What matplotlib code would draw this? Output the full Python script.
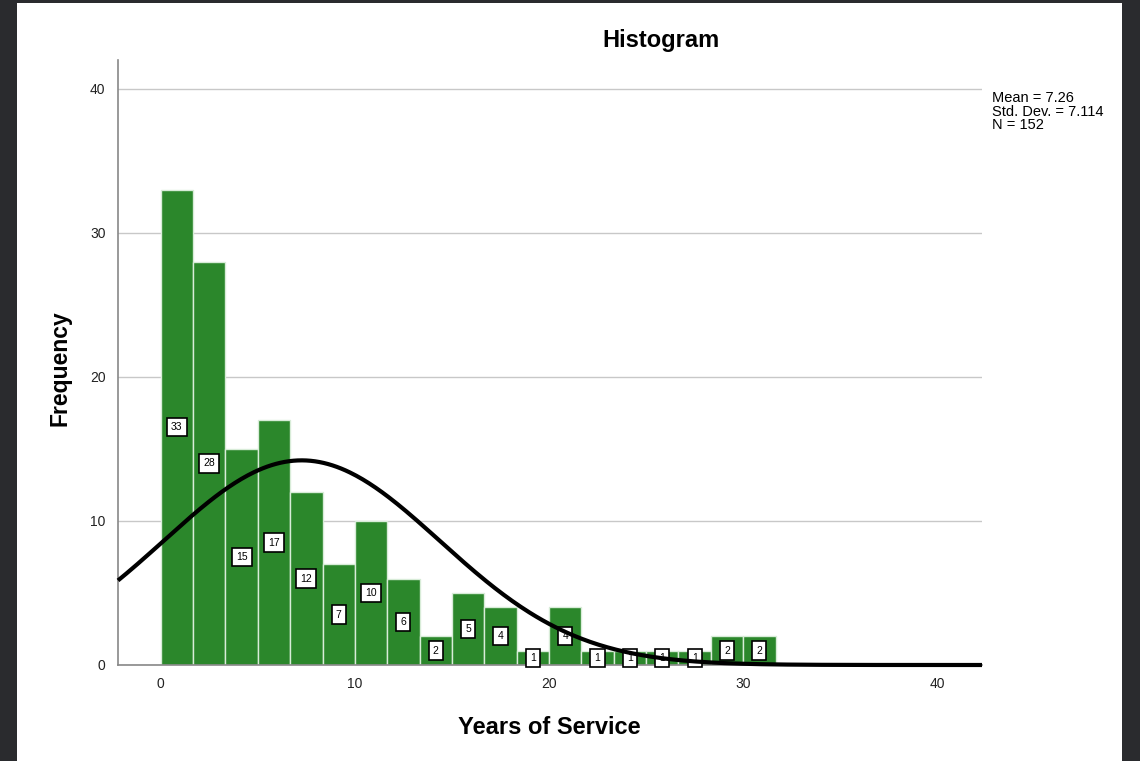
import numpy as np
import matplotlib
matplotlib.use("Agg")
import matplotlib.pyplot as plt
from matplotlib.patches import Rectangle

# Histogram counts per bin (Years of Service)
counts = [33, 28, 15, 17, 12, 7, 10, 6, 2, 5, 4, 1, 4, 1, 1, 1, 1, 2, 2]
bin_start = 0.0
bin_width = 5.0 / 3.0

# Summary statistics shown in the legend box
mean_val = 7.26
std_val = 7.114
n_val = 152

x_ticks = [0, 10, 20, 30, 40]
y_ticks = [0, 10, 20, 30, 40]

plt.rcParams['font.family'] = ['Liberation Sans', 'DejaVu Sans']

fig = plt.figure(figsize=(11.4, 7.61), dpi=100, facecolor='#2a2b2e')
# white report panel inside dark screenshot frame
fig.patches.append(Rectangle((17 / 1140, 0), (1122 - 17) / 1140, (761 - 3) / 761,
                             transform=fig.transFigure, facecolor='white',
                             edgecolor='none', zorder=-10))

ax = fig.add_axes([118 / 1140, 1 - 665 / 761, (982 - 118) / 1140, (665 - 60) / 761])
ax.set_zorder(2)
ax.set_facecolor('white')

edges = bin_start + bin_width * np.arange(len(counts) + 1)
ax.bar(edges[:-1], counts, width=bin_width, align='edge', color='#2b872b',
       edgecolor='#d8ecd8', linewidth=1.0, zorder=2)

# value labels in the middle of each bar
for left, c in zip(edges[:-1], counts):
    ax.text(left + bin_width / 2, c / 2, str(c), ha='center', va='center',
            fontsize=7.5, color='black', zorder=5,
            bbox=dict(boxstyle='square,pad=0.4', fc='white', ec='black', lw=1.2))

# normal curve scaled to counts (drawn over the labels, like SPSS)
xs = np.linspace(-2.2, 42.3, 400)
ys = n_val * bin_width / (std_val * np.sqrt(2 * np.pi)) * np.exp(-0.5 * ((xs - mean_val) / std_val) ** 2)
ax.plot(xs, ys, color='black', lw=3.0, zorder=6, solid_capstyle='butt', clip_on=False)

ax.set_xlim(-2.2, 42.3)
ax.set_ylim(0, 42.0)
ax.set_xticks(x_ticks)
ax.set_yticks(y_ticks)
ax.tick_params(length=0, labelsize=10, colors='#222222', pad=9)
ax.grid(axis='y', color='#c8c8c8', lw=1.0, zorder=1)
ax.set_axisbelow(True)
for s in ['top', 'right']:
    ax.spines[s].set_visible(False)
for s in ['left', 'bottom']:
    ax.spines[s].set_color('#888888')
    ax.spines[s].set_linewidth(1.2)

fig.text(661 / 1140, 1 - 40 / 761, 'Histogram', ha='center', va='center',
         fontsize=17, fontweight='bold')
fig.text(60 / 1140, 1 - 368 / 761, 'Frequency', ha='center', va='center',
         rotation=90, fontsize=16.5, fontweight='bold')
fig.text(549 / 1140, 1 - 728 / 761, 'Years of Service', ha='center', va='center',
         fontsize=17, fontweight='bold')
fig.text(992 / 1140, 1 - 91 / 761,
         f'Mean = {mean_val:.2f}\nStd. Dev. = {std_val:.3f}\nN = {n_val}',
         ha='left', va='top', fontsize=10.5, linespacing=0.97)

fig.savefig('out.png', dpi=100, facecolor=fig.get_facecolor())
